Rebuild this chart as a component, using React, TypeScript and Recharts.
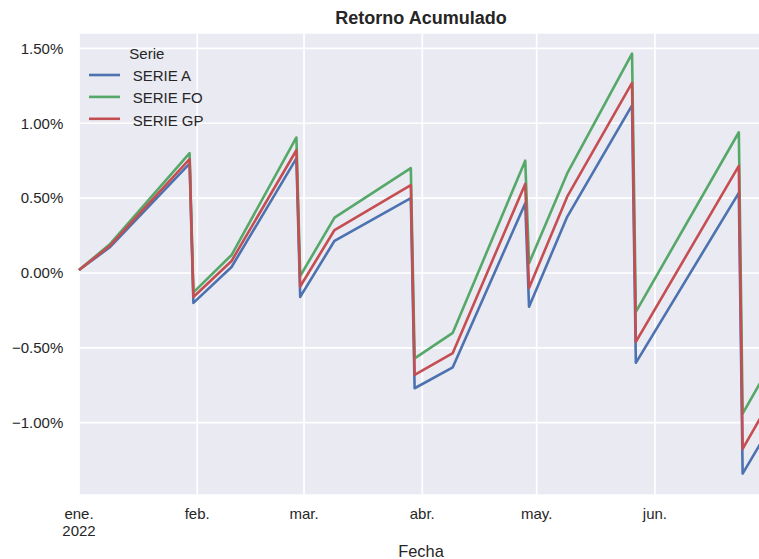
import React from 'react';
import { LineChart, Line, XAxis, YAxis, CartesianGrid, Legend, Label } from 'recharts';

// ---- data (day offsets from 1 Jan 2022, cumulative return in %) ----
const days = [0, 8, 29, 30, 40, 57, 58, 67, 87, 88, 98, 117, 118, 128, 145, 146, 173, 174, 184];
const serieA = [0.02, 0.17, 0.73, -0.2, 0.04, 0.765, -0.16, 0.215, 0.5, -0.77, -0.63, 0.465, -0.225, 0.375, 1.12, -0.6, 0.535, -1.34, -0.91];
const serieFO = [0.02, 0.19, 0.8, -0.13, 0.12, 0.905, -0.02, 0.37, 0.7, -0.57, -0.4, 0.75, 0.065, 0.665, 1.465, -0.26, 0.94, -0.94, -0.49];
const serieGP = [0.02, 0.18, 0.76, -0.16, 0.08, 0.82, -0.09, 0.287, 0.587, -0.68, -0.535, 0.595, -0.1, 0.51, 1.27, -0.46, 0.715, -1.175, -0.73];

const monthTicks = [0, 31, 59, 90, 120, 151];
const monthLabels = ['ene.', 'feb.', 'mar.', 'abr.', 'may.', 'jun.'];
const yearLabel = '2022';
const yTicks = [-1.0, -0.5, 0, 0.5, 1.0, 1.5];

const seriesKeys = ['a', 'fo', 'gp'];
const seriesNames = ['SERIE A', 'SERIE FO', 'SERIE GP'];
const seriesColors = ['#4C72B0', '#55A868', '#C44E52'];
const legendTitle = 'Serie';
const chartTitle = 'Retorno Acumulado';
const xLabel = 'Fecha';

const data = days.map((d, i) => ({ day: d, a: serieA[i], fo: serieFO[i], gp: serieGP[i] }));

const FONT = '"Liberation Sans", Arial, Helvetica, sans-serif';
const TEXT = '#262626';

const fmtPct = (v: number) => {
  const s = Math.abs(v).toFixed(2) + '%';
  return v < 0 ? '\u2212' + s : s;
};

const XTick = (props: any) => {
  const { x, y, payload } = props;
  const idx = monthTicks.indexOf(payload.value);
  return (
    <text x={x} y={y} textAnchor="middle" fontSize={15} fill={TEXT} fontFamily={FONT}>
      <tspan x={x} dy={24}>{monthLabels[idx]}</tspan>
      {idx === 0 ? <tspan x={x} dy={16.5}>{yearLabel}</tspan> : null}
    </text>
  );
};

const renderLegend = () => (
  <svg width={140} height={100} style={{ display: 'block', overflow: 'visible' }}>
    <text x={44.3} y={19} fontSize={15} fill={TEXT} fontFamily={FONT}>{legendTitle}</text>
    {seriesNames.map((n, i) => (
      <g key={n}>
        <line x1={4} x2={35} y1={35 + 21.9 * i} y2={35 + 21.9 * i} stroke={seriesColors[i]} strokeWidth={2.6} />
        <text x={47.7} y={41 + 22.3 * i} fontSize={15} fill={TEXT} fontFamily={FONT}>{n}</text>
      </g>
    ))}
  </svg>
);

const AxisTexts = (props: any) => {
  const vb = props.viewBox || { x: 78, width: 686 };
  const cx = vb.x + vb.width / 2;
  return (
    <g>
      <text x={cx} y={23.5} textAnchor="middle" fontSize={18} fontWeight="bold" fill={TEXT} fontFamily={FONT}>
        {chartTitle}
      </text>
      <text x={cx} y={557} textAnchor="middle" fontSize={16.4} fill={TEXT} fontFamily={FONT}>
        {xLabel}
      </text>
    </g>
  );
};

export default function App() {
  return (
    <div
      style={{
        position: 'absolute',
        left: 0,
        top: 0,
        width: 759,
        height: 559,
        overflow: 'hidden',
        background: '#ffffff',
        fontFamily: FONT,
      }}
    >
      <LineChart width={766} height={559} data={data} margin={{ top: 33, right: 2, bottom: 0, left: 0 }}>
        <CartesianGrid fill="#EAEAF2" fillOpacity={1} stroke="#ffffff" strokeWidth={1.7} />
        <XAxis
          dataKey="day"
          type="number"
          domain={[-0.26, 179.6]}
          allowDataOverflow
          ticks={monthTicks}
          interval={0}
          height={64}
          axisLine={false}
          tickLine={false}
          tickSize={0}
          tickMargin={0}
          tick={<XTick />}
        >
          <Label content={<AxisTexts />} />
        </XAxis>
        <YAxis
          type="number"
          domain={[-1.483, 1.603]}
          allowDataOverflow
          ticks={yTicks}
          interval={0}
          width={78}
          axisLine={false}
          tickLine={false}
          tickSize={0}
          tickMargin={14.7}
          tickFormatter={fmtPct}
          tick={{ fontSize: 15, fill: TEXT, fontFamily: FONT }}
        />
        <Legend
          layout="vertical"
          align="center"
          verticalAlign="middle"
          content={renderLegend}
          wrapperStyle={{ left: 85, top: 40, width: 140, height: 100 }}
        />
        {seriesKeys.map((k, i) => (
          <Line
            key={k}
            type="linear"
            dataKey={k}
            name={seriesNames[i]}
            stroke={seriesColors[i]}
            strokeWidth={2.6}
            dot={false}
            activeDot={false}
            isAnimationActive={false}
            strokeLinejoin="round"
          />
        ))}
      </LineChart>
    </div>
  );
}
